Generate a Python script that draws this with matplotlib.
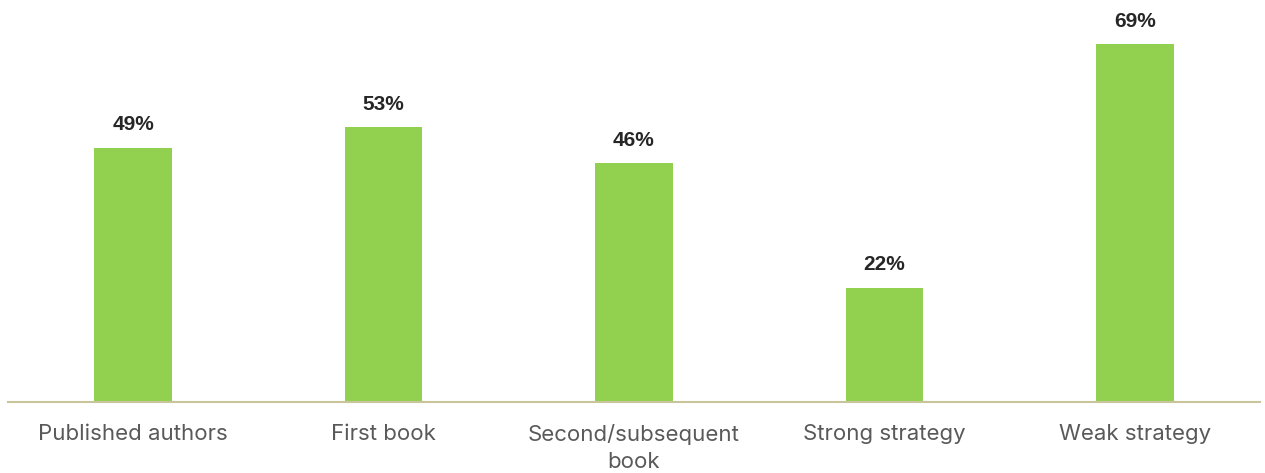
import matplotlib.pyplot as plt

categories = ["Published authors", "First book", "Second/subsequent\nbook",
              "Strong strategy", "Weak strategy"]
values = [49, 53, 46, 22, 69]

plt.rcParams['font.family'] = ['Inter', 'DejaVu Sans']

fig = plt.figure(figsize=(12.65, 4.73), dpi=100)
ax = fig.add_axes([0.0063, 0.15, 0.9897, 0.85])

x = range(len(categories))
bars = ax.bar(x, values, width=0.31, color="#92D050", zorder=2)

for xi, v in zip(x, values):
    ax.text(xi, v + 2.6, f"{v}%", ha="center", va="bottom",
            fontsize=15, fontweight="bold", color="#262626",
            family=["Liberation Sans", "DejaVu Sans"])

ax.set_xlim(-0.5, len(categories) - 0.5)
ax.set_ylim(0, 77.5)
ax.set_xticks(list(x))
ax.set_xticklabels(categories, fontsize=16, color="#595959", linespacing=1.4)
ax.tick_params(axis="x", length=0, pad=16)
ax.set_yticks([])

for side in ["top", "right", "left"]:
    ax.spines[side].set_visible(False)
ax.spines["bottom"].set_color("#C9C59A")
ax.spines["bottom"].set_linewidth(1.5)

fig.savefig("out.png", dpi=100)
